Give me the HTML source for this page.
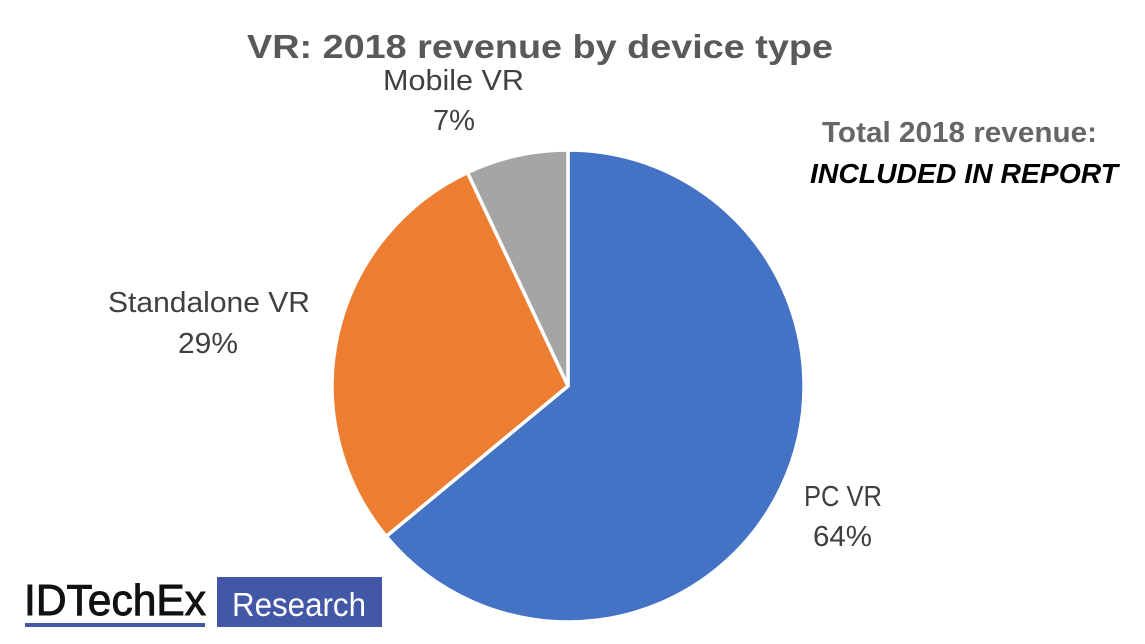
<!DOCTYPE html>
<html>
<head>
<meta charset="utf-8">
<style>
  html, body { margin: 0; padding: 0; background: #ffffff; }
  svg { display: block; }
</style>
</head>
<body>
<svg width="1145" height="644" viewBox="0 0 1145 644" xmlns="http://www.w3.org/2000/svg">
  <rect x="0" y="0" width="1145" height="644" fill="#ffffff"/>

  <!-- Title -->
  <text x="247" y="58" font-family="Liberation Sans, sans-serif" font-weight="bold" font-size="33" fill="#595959" textLength="586" lengthAdjust="spacingAndGlyphs">VR: 2018 revenue by device type</text>

  <!-- Pie -->
  <g stroke="#ffffff" stroke-width="3.5" stroke-linejoin="round">
    <path d="M568,386 L568,150 A236,236 0 1 1 386.2,536.4 Z" fill="#4472C4"/>
    <path d="M568,386 L386.2,536.4 A236,236 0 0 1 467.5,172.5 Z" fill="#ED7D31"/>
    <path d="M568,386 L467.5,172.5 A236,236 0 0 1 568,150 Z" fill="#A5A5A5"/>
  </g>

  <!-- Data labels -->
  <g font-family="Liberation Sans, sans-serif" font-size="29" fill="#404040">
    <text x="383" y="90" textLength="141" lengthAdjust="spacingAndGlyphs">Mobile VR</text>
    <text x="433" y="130" textLength="42" lengthAdjust="spacingAndGlyphs">7%</text>
    <text x="108" y="312" textLength="202" lengthAdjust="spacingAndGlyphs">Standalone VR</text>
    <text x="178" y="353" textLength="60" lengthAdjust="spacingAndGlyphs">29%</text>
    <text x="804" y="506" textLength="78" lengthAdjust="spacingAndGlyphs">PC VR</text>
    <text x="813" y="546" textLength="59" lengthAdjust="spacingAndGlyphs">64%</text>
  </g>

  <!-- Total annotation -->
  <text x="822" y="142" font-family="Liberation Sans, sans-serif" font-weight="bold" font-size="29" fill="#666666" textLength="275" lengthAdjust="spacingAndGlyphs">Total 2018 revenue:</text>
  <text x="810" y="183" font-family="Liberation Sans, sans-serif" font-weight="bold" font-style="italic" font-size="28" fill="#000000" textLength="308" lengthAdjust="spacingAndGlyphs">INCLUDED IN REPORT</text>

  <!-- Logo -->
  <text x="24" y="615" font-family="Liberation Sans, sans-serif" font-size="44" fill="#111111" stroke="#111111" stroke-width="0.9" textLength="182" lengthAdjust="spacingAndGlyphs">IDTechEx</text>
  <rect x="25" y="623" width="180" height="4" fill="#4257A6"/>
  <rect x="217" y="577" width="165" height="50" fill="#4257A6"/>
  <text x="232" y="616" font-family="Liberation Sans, sans-serif" font-size="33" fill="#ffffff" textLength="134" lengthAdjust="spacingAndGlyphs">Research</text>
</svg>
</body>
</html>
